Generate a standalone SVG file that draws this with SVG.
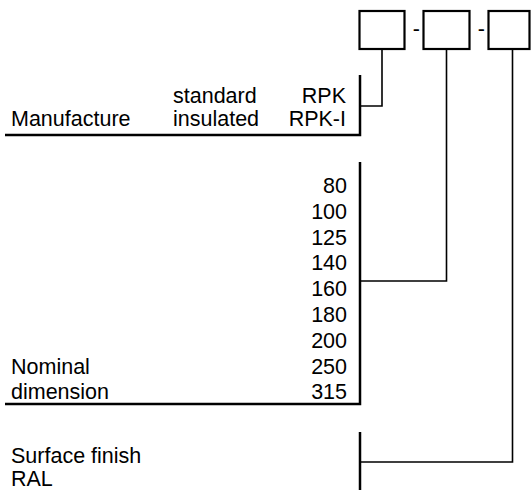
<svg xmlns="http://www.w3.org/2000/svg" width="531" height="490" viewBox="0 0 531 490">
<style>
text{font-family:"Liberation Sans",Arial,sans-serif;font-size:21.5px;fill:#000}
.r{text-anchor:end}
.box{fill:none;stroke:#000;stroke-width:2.2}
.bar{fill:none;stroke:#000;stroke-width:2.5}
.ln{fill:none;stroke:#000;stroke-width:1.6}
</style>
<rect width="531" height="490" fill="#fff"/>
<g id="code-boxes">
<rect id="box1" class="box" x="359.5" y="11" width="45" height="38"/>
<text x="416.3" y="36" text-anchor="middle">-</text>
<rect id="box2" class="box" x="423.5" y="11" width="46" height="38"/>
<text x="481.3" y="36" text-anchor="middle">-</text>
<rect id="box3" class="box" x="488.5" y="11" width="41" height="38"/>
</g>
<g id="manufacture">
<text x="173" y="103">standard</text>
<text class="r" x="346" y="103">RPK</text>
<text x="11" y="126">Manufacture</text>
<text x="173" y="126">insulated</text>
<text class="r" x="346" y="126">RPK-I</text>
<path class="bar" d="M360,75 V135 H5"/>
</g>
<g id="nominal">
<text class="r" x="347" y="193">80</text>
<text class="r" x="347" y="219">100</text>
<text class="r" x="347" y="244.6">125</text>
<text class="r" x="347" y="270.4">140</text>
<text class="r" x="347" y="296.2">160</text>
<text class="r" x="347" y="322">180</text>
<text class="r" x="347" y="347.8">200</text>
<text class="r" x="347" y="373.6">250</text>
<text class="r" x="347" y="399.4">315</text>
<text x="11" y="373.6">Nominal</text>
<text x="11" y="399.4">dimension</text>
<path class="bar" d="M360,162 V404 H5"/>
</g>
<g id="surface">
<text x="11" y="463">Surface finish</text>
<text x="11" y="486">RAL</text>
<path class="bar" d="M360,432 V490"/>
</g>
<g id="connectors">
<path class="ln" d="M382,49 V106 H360"/>
<path class="ln" d="M446.5,49 V281 H360"/>
<path class="ln" d="M512.5,49 V462 H360"/>
</g>
</svg>
